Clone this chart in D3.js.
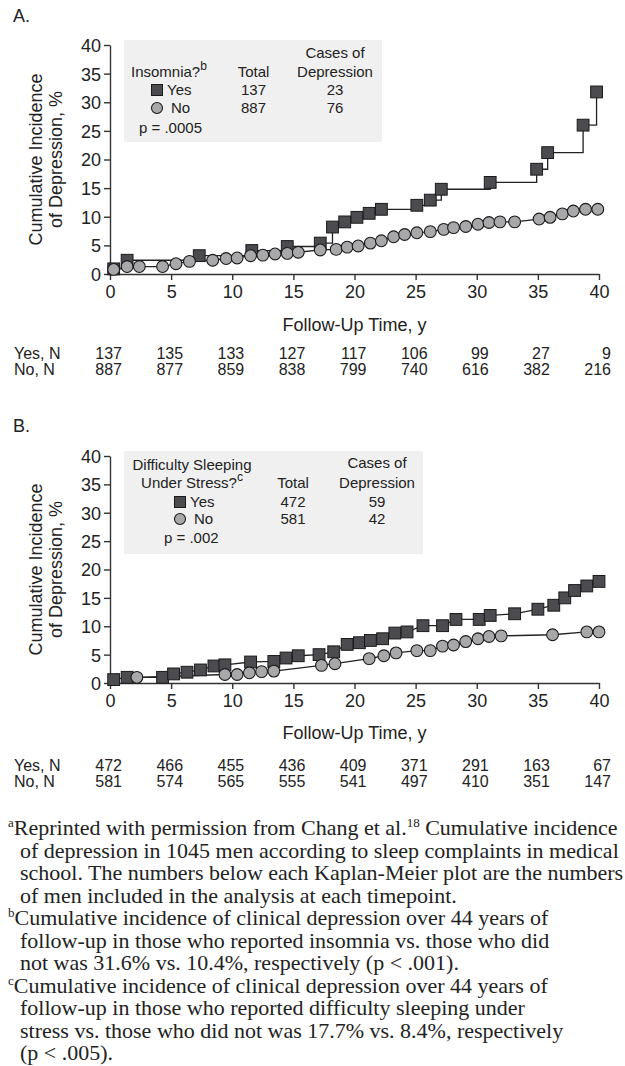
<!DOCTYPE html>
<html>
<head>
<meta charset="utf-8">
<script src="https://cdn.jsdelivr.net/npm/d3@7"></script>
<style>
  body { margin: 0; background: #fff; }
  svg { display: block; }
</style>
</head>
<body>
<svg id="chart" width="625" height="1066"></svg>
<script>
// timepoints used for x ticks and the numbers-at-risk table
var years = [0, 5, 10, 15, 20, 25, 30, 35, 40];
var yTicks = [0, 5, 10, 15, 20, 25, 30, 35, 40];

// Panel A - insomnia  [years, cumulative incidence %]
var insomniaYes = [[0.3, 0.9], [1.4, 2.4], [7.3, 3.2], [11.6, 4.1], [14.5, 4.8], [17.2, 5.4],
  [18.2, 8.2], [19.2, 9.1], [20.2, 9.9], [21.2, 10.6], [22.2, 11.3], [25.1, 12.0], [26.2, 12.9],
  [27.1, 14.8], [31.1, 16.0], [34.9, 18.3], [35.8, 21.2], [38.7, 26.0], [39.8, 31.8]];
var insomniaNo = [[0.3, 0.8], [1.4, 1.3], [2.4, 1.3], [4.3, 1.3], [5.4, 1.8], [6.5, 2.2], [8.4, 2.4],
  [9.5, 2.7], [10.4, 2.8], [11.5, 3.2], [12.5, 3.3], [13.5, 3.5], [14.5, 3.6], [15.4, 3.8],
  [17.2, 4.2], [18.5, 4.3], [19.4, 4.7], [20.3, 4.9], [21.3, 5.4], [22.2, 5.8], [23.2, 6.5],
  [24.1, 6.9], [25.1, 7.2], [26.2, 7.4], [27.3, 7.8], [28.1, 8.1], [29.1, 8.3], [30.1, 8.7],
  [31.0, 9.0], [31.9, 9.1], [33.1, 9.1], [35.1, 9.6], [36.0, 9.9], [37.0, 10.5], [37.9, 11.0],
  [38.9, 11.3], [39.9, 11.3]];
var insomniaRiskYes = [137, 135, 133, 127, 117, 106, 99, 27, 9];
var insomniaRiskNo = [887, 877, 859, 838, 799, 740, 616, 382, 216];
var insomniaTotals = [137, 887];
var insomniaCases = [23, 76];

// Panel B - difficulty sleeping under stress
var stressYes = [[0.3, 0.6], [1.4, 1.0], [4.3, 1.0], [5.2, 1.6], [6.3, 1.9], [7.4, 2.3], [8.5, 3.0],
  [9.4, 3.2], [11.5, 3.7], [13.4, 3.8], [14.4, 4.4], [15.4, 4.8], [17.1, 5.0], [18.3, 5.5],
  [19.4, 6.8], [20.4, 7.1], [21.3, 7.5], [22.3, 7.8], [23.3, 8.8], [24.3, 9.0], [25.6, 10.1],
  [27.2, 10.1], [28.3, 11.2], [30.2, 11.2], [31.1, 11.9], [33.1, 12.2], [35.0, 13.0],
  [36.3, 13.7], [37.2, 15.0], [38.0, 16.3], [39.0, 17.1], [40.0, 17.9]];
var stressNo = [[2.2, 1.0], [9.4, 1.5], [10.4, 1.5], [11.4, 1.8], [12.4, 2.0], [13.4, 2.1],
  [17.3, 3.1], [18.4, 3.4], [21.2, 4.3], [22.4, 4.8], [23.4, 5.3], [25.1, 5.7], [26.2, 5.7],
  [27.2, 6.5], [28.1, 6.7], [29.1, 7.3], [30.1, 7.8], [31.0, 8.2], [32.0, 8.3], [36.2, 8.5],
  [39.0, 9.0], [40.0, 9.0]];
var stressRiskYes = [472, 466, 455, 436, 409, 371, 291, 163, 67];
var stressRiskNo = [581, 574, 565, 555, 541, 497, 410, 351, 147];
var stressTotals = [472, 581];
var stressCases = [59, 42];

var footnotes = [
  ["a", "Reprinted with permission from Chang et al.", "18", " Cumulative incidence"],
  ["", "of depression in 1045 men according to sleep complaints in medical"],
  ["", "school. The numbers below each Kaplan-Meier plot are the numbers"],
  ["", "of men included in the analysis at each timepoint."],
  ["b", "Cumulative incidence of clinical depression over 44 years of"],
  ["", "follow-up in those who reported insomnia vs. those who did"],
  ["", "not was 31.6% vs. 10.4%, respectively (p < .001)."],
  ["c", "Cumulative incidence of clinical depression over 44 years of"],
  ["", "follow-up in those who reported difficulty sleeping under"],
  ["", "stress vs. those who did not was 17.7% vs. 8.4%, respectively"],
  ["", "(p < .005)."]
];

var sans = "'Liberation Sans', Arial, Helvetica, sans-serif";
var serif = "'Liberation Serif', 'Times New Roman', serif";
var ink = "#222";
var yesFill = "#4b4b50", noFill = "#a8a8aa";

var svg = d3.select("#chart");
svg.append("rect").attr("width", 625).attr("height", 1066).attr("fill", "#fff");

var x = d3.scaleLinear().domain([0, 40]).range([110, 599]);

function drawPanel(p) {
  var y = d3.scaleLinear().domain([0, 40]).range([p.bottom, p.top]);
  var g = svg.append("g");

  g.append("text").attr("x", 13).attr("y", p.labelY)
    .style("font", "18px " + sans).attr("fill", ink).text(p.label);

  // legend box
  var lg = p.legend;
  g.append("rect").attr("x", lg.x).attr("y", lg.y).attr("width", lg.w).attr("height", lg.h)
    .attr("fill", "#f0f0f0");
  function lt(txt, tx, ty, anchor) {
    return g.append("text").attr("x", tx).attr("y", ty).attr("text-anchor", anchor || "start")
      .style("font", "15px " + sans).attr("fill", ink).text(txt);
  }
  lg.title.forEach(function (t, i) {
    var el = lt(t, lg.titleX, lg.titleY[i], lg.titleAnchor);
    if (i === lg.title.length - 1) {
      el.append("tspan").attr("dy", -7).style("font-size", "12px").text(lg.sup);
    }
  });
  lt("Cases of", lg.casesX, lg.casesY, "middle");
  lt("Total", lg.totalX, lg.headY, "middle");
  lt("Depression", lg.casesX, lg.headY, "middle");
  ["Yes", "No"].forEach(function (name, i) {
    var ry = lg.rowY[i];
    if (i === 0) {
      g.append("rect").attr("x", lg.markX - 5.5).attr("y", ry - 10.5).attr("width", 11).attr("height", 11)
        .attr("fill", yesFill).attr("stroke", "#1a1a1a").attr("stroke-width", 1);
    } else {
      g.append("circle").attr("cx", lg.markX).attr("cy", ry - 5).attr("r", 5.5)
        .attr("fill", noFill).attr("stroke", "#1a1a1a").attr("stroke-width", 1.1);
    }
    lt(name, lg.markX + (i === 0 ? 10 : 14), ry);
    lt(p.totals[i], lg.totalX, ry, "middle");
    lt(p.cases[i], lg.casesX, ry, "middle");
  });
  lt(p.pText, lg.pX, lg.pY);

  // axes
  var ax = g.append("g").attr("transform", "translate(0," + p.bottom + ")")
    .call(d3.axisBottom(x).tickValues(years).tickSize(6).tickPadding(5).tickSizeOuter(0));
  var ay = g.append("g").attr("transform", "translate(110,0)")
    .call(d3.axisLeft(y).tickValues(yTicks).tickSize(6).tickPadding(3).tickSizeOuter(0));
  [ax, ay].forEach(function (a) {
    a.selectAll("path, line").attr("stroke", "#333").attr("stroke-width", 1.4);
    a.selectAll("text").style("font", "18px " + sans).attr("fill", ink);
  });
  ay.selectAll("text").attr("dy", "0.36em");

  // axis titles
  var yl = g.append("text").attr("transform", "translate(0," + ((p.top + p.bottom) / 2) + ") rotate(-90)")
    .attr("text-anchor", "middle").style("font", "18px " + sans).attr("fill", ink);
  yl.append("tspan").attr("x", 0).attr("y", 42).text("Cumulative Incidence");
  yl.append("tspan").attr("x", 0).attr("y", 62).text("of Depression, %");
  g.append("text").attr("x", (x(0) + x(40)) / 2).attr("y", p.xTitleY).attr("text-anchor", "middle")
    .style("font", "18px " + sans).attr("fill", ink).text("Follow-Up Time, y");

  // numbers at risk
  [["Yes, N", p.riskYes, p.riskY[0]], ["No, N", p.riskNo, p.riskY[1]]].forEach(function (r) {
    g.append("text").attr("x", 14).attr("y", r[2]).style("font", "16px " + sans).attr("fill", ink).text(r[0]);
    g.selectAll(null).data(r[1]).enter().append("text")
      .attr("x", function (d, i) { return x(years[i]) + 12; })
      .attr("y", r[2]).attr("text-anchor", "end")
      .style("font", "16px " + sans).attr("fill", ink)
      .text(function (d) { return d; });
  });

  // curves
  var lineYes = d3.line().x(function (d) { return x(d[0]); }).y(function (d) { return y(d[1]); })
    .curve(p.yesCurve);
  var lineNo = d3.line().x(function (d) { return x(d[0]); }).y(function (d) { return y(d[1]); });
  g.append("path").attr("d", lineYes(p.yes)).attr("fill", "none").attr("stroke", ink).attr("stroke-width", 1.3);
  g.append("path").attr("d", lineNo(p.no)).attr("fill", "none").attr("stroke", ink).attr("stroke-width", 1.3);

  g.append("g").selectAll("rect").data(p.yes).enter().append("rect")
    .attr("x", function (d) { return x(d[0]) - 5.9; })
    .attr("y", function (d) { return y(d[1]) - 5.9; })
    .attr("width", 11.8).attr("height", 11.8)
    .attr("fill", yesFill).attr("stroke", "#1a1a1a").attr("stroke-width", 1);
  g.append("g").selectAll("circle").data(p.no).enter().append("circle")
    .attr("cx", function (d) { return x(d[0]); })
    .attr("cy", function (d) { return y(d[1]); })
    .attr("r", 5.9)
    .attr("fill", noFill).attr("stroke", "#1a1a1a").attr("stroke-width", 1.1);
}

drawPanel({
  label: "A.", labelY: 22, top: 45, bottom: 274, xTitleY: 331, riskY: [359, 375],
  yes: insomniaYes, no: insomniaNo, yesCurve: d3.curveStepAfter,
  riskYes: insomniaRiskYes, riskNo: insomniaRiskNo,
  totals: insomniaTotals, cases: insomniaCases, pText: "p = .0005",
  legend: { x: 124, y: 40, w: 258, h: 102, title: ["Insomnia?"], sup: "b", titleX: 131,
    titleY: [77], titleAnchor: "start", casesX: 335, casesY: 58, totalX: 253.5, headY: 77,
    markX: 157, rowY: [95, 113], pX: 139, pY: 133 }
});

drawPanel({
  label: "B.", labelY: 432, top: 456, bottom: 683, xTitleY: 739, riskY: [771, 787],
  yes: stressYes, no: stressNo, yesCurve: d3.curveLinear,
  riskYes: stressRiskYes, riskNo: stressRiskNo,
  totals: stressTotals, cases: stressCases, pText: "p = .002",
  legend: { x: 124, y: 451, w: 299, h: 103, title: ["Difficulty Sleeping", "Under Stress?"], sup: "c",
    titleX: 192, titleY: [470, 488], titleAnchor: "middle", casesX: 377, casesY: 468, totalX: 293,
    headY: 488, markX: 180, rowY: [507, 524], pX: 164, pY: 543 }
});

// footnotes
var fn = svg.append("g");
footnotes.forEach(function (f, i) {
  var t = fn.append("text").attr("x", f[0] ? 8 : 20).attr("y", 835 + i * 22.5)
    .style("font", "22px " + serif).attr("fill", ink);
  if (f[0]) t.append("tspan").attr("dy", -8).style("font-size", "13px").text(f[0]);
  t.append("tspan").attr("dy", f[0] ? 8 : 0).text(f[1]);
  if (f[2]) {
    t.append("tspan").attr("dy", -8).style("font-size", "13px").text(f[2]);
    t.append("tspan").attr("dy", 8).text(f[3]);
  }
});
</script>
</body>
</html>
